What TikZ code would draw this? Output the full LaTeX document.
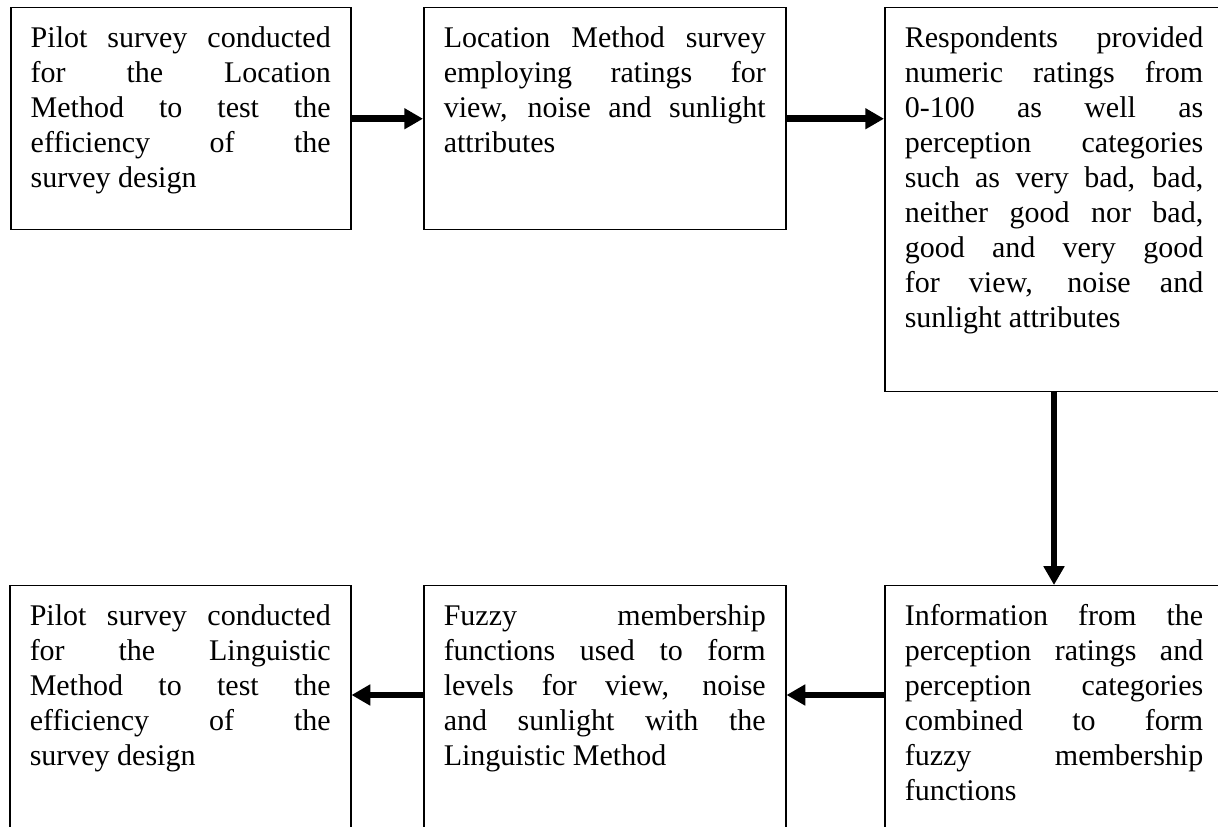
\documentclass[tikz,border=0pt]{standalone}
\usepackage{fontspec}
\setmainfont{Liberation Serif}
\usetikzlibrary{arrows.meta}
\tolerance=10000 \hbadness=10000 \hyphenpenalty=10000
\tikzstyle{stage}=[draw,line width=0.6pt,anchor=north west,align=justify,inner xsep=8pt,inner ysep=4pt,text height=12pt,font=\fontsize{12}{14}\selectfont]
\tikzstyle{flow}=[line width=2.6pt,-{Triangle[length=7.5pt,width=8pt]}]

\begin{document}
\begin{tikzpicture}[]
  \clip (0,0) rectangle (487.2pt,-330.8pt);
  % top row
  \node[stage,text width=120pt,text depth=68.8pt] (pilotloc) at (4pt,-2.8pt)
    {Pilot survey conducted\linebreak for the Location\linebreak Method to test the\linebreak efficiency of the\linebreak survey design};
  \node[stage,text width=128.8pt,text depth=68.8pt] (locsurvey) at (169.2pt,-2.8pt)
    {Location Method survey\linebreak employing ratings for\linebreak view, noise and sunlight\linebreak attributes};
  \node[stage,text width=119.4pt,text depth=133.6pt] (ratings) at (353.6pt,-2.8pt)
    {Respondents provided\linebreak numeric ratings from\linebreak 0-100 as well as\linebreak perception categories\linebreak such as very bad, bad,\linebreak neither good nor bad,\linebreak good and very good\linebreak for view, noise and\linebreak sunlight attributes};
  % bottom row
  \node[stage,text width=120.4pt,text depth=110pt] (pilotling) at (3.6pt,-234pt)
    {Pilot survey conducted\linebreak for the Linguistic\linebreak Method to test the\linebreak efficiency of the\linebreak survey design};
  \node[stage,text width=128.8pt,text depth=110pt] (fuzzy) at (169.2pt,-234pt)
    {Fuzzy membership\linebreak functions used to form\linebreak levels for view, noise\linebreak and sunlight with the\linebreak Linguistic Method};
  \node[stage,text width=119.4pt,text depth=110pt] (combine) at (353.6pt,-234pt)
    {Information from the\linebreak perception ratings and\linebreak perception categories\linebreak combined to form\linebreak fuzzy membership\linebreak functions};
  % arrows
  \draw[flow] (pilotloc) -- (locsurvey);
  \draw[flow] (locsurvey) -- (locsurvey -| ratings.west);
  \draw[flow] (ratings) -- (combine);
  \draw[flow] ([yshift=-44pt]combine.north west) -- ([yshift=-44pt]fuzzy.north east);
  \draw[flow] ([yshift=-44pt]fuzzy.north west) -- ([yshift=-44pt]pilotling.north east);
\end{tikzpicture}
\end{document}
